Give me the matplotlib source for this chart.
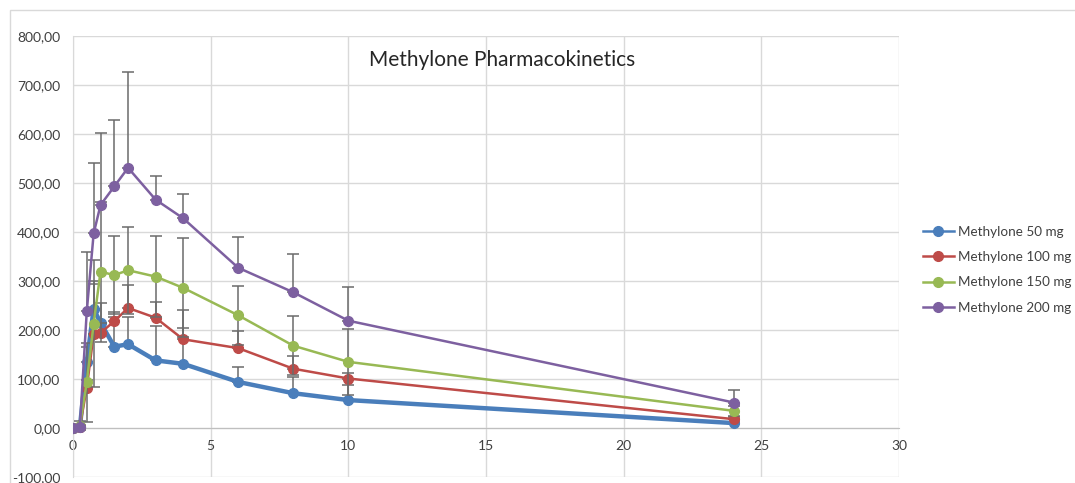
import matplotlib.pyplot as plt
import numpy as np

# time points (h)
hours = [0, 0.25, 0.5, 0.75, 1, 1.5, 2, 3, 4, 6, 8, 10, 24]

labels = ['Methylone 50 mg', 'Methylone 100 mg', 'Methylone 150 mg', 'Methylone 200 mg']
colors = ['#4A7EBB', '#BE4B48', '#98B954', '#7D60A0']

mean50 = [0, 2, 135, 243, 215, 166, 171, 138, 131, 94, 71, 57, 10]
mean100 = [0, 3, 82, 192, 194, 218, 245, 225, 181, 163, 121, 101, 18]
mean150 = [0, 5, 93, 213, 319, 312, 322, 309, 286, 230, 168, 135, 35]
mean200 = [0, 2, 238, 397, 455, 493, 531, 466, 428, 327, 277, 219, 52]

sd50 = [0, 2, 30, 50, 40, 61, 55, 70, 73, 30, 34, 30, 3]
sd100 = [0, 3, 15, 107, 20, 19, 47, 33, 60, 35, 26, 12, 5]
sd150 = [0, 10, 80, 130, 143, 80, 89, 83, 101, 60, 60, 68, 10]
sd200 = [0, 3, 122, 143, 147, 135, 196, 49, 50, 63, 78, 69, 25]

means = [mean50, mean100, mean150, mean200]
sds = [sd50, sd100, sd150, sd200]
both_dirs = [False, False, True, False]
widths = [3.2, 1.8, 1.8, 1.8]

plt.rcParams['font.family'] = ['Lato', 'DejaVu Sans']

fig = plt.figure(figsize=(10.75, 4.83), dpi=100)
ax = fig.add_axes([73 / 1075, 1 - 477 / 483, 826 / 1075, 441 / 483])

for i in range(4):
    m = np.array(means[i], dtype=float)
    s = np.array(sds[i], dtype=float)
    lower = s if both_dirs[i] else np.zeros_like(s)
    ax.errorbar(hours, m, yerr=[lower, s], fmt='none', ecolor='#6B6B6B',
                elinewidth=1.1, capsize=4, capthick=1.1, zorder=2 + i)
    ax.plot(hours, m, color=colors[i], lw=widths[i], marker='o', ms=7,
            label=labels[i], zorder=3 + i)

ax.set_xlim(0, 30)
ax.set_ylim(-100, 800)
ax.set_xticks(range(0, 31, 5))
ax.set_yticks(range(-100, 801, 100))
ax.set_yticklabels(['{:.2f}'.format(v).replace('.', ',') for v in range(-100, 801, 100)])
ax.grid(True, color='#D9D9D9', lw=1)
ax.set_axisbelow(True)

for side in ['top', 'right']:
    ax.spines[side].set_visible(False)
ax.spines['bottom'].set_position(('data', 0))
ax.spines['bottom'].set_color('#BFBFBF')
ax.spines['left'].set_color('#D9D9D9')
ax.tick_params(length=0, labelsize=10, colors='#404040')
ax.tick_params(axis='x', pad=9)
ax.tick_params(axis='y', pad=9)

fig.text(0.467, 0.876, 'Methylone Pharmacokinetics', fontsize=15,
         ha='center', va='center', color='#262626')

leg = ax.legend(loc='center left', bbox_to_anchor=(1.014, 0.47), frameon=False,
                fontsize=9.7, handlelength=2.3, handletextpad=0.3, labelspacing=0.98,
                labelcolor='#404040')
for h in leg.get_lines():
    h.set_linewidth(1.8)

# outer chart border
fig.add_artist(plt.Rectangle((10 / 1075, -0.01), 1.0, 1 - 10 / 483 + 0.01,
                             transform=fig.transFigure, fill=False,
                             edgecolor='#D9D9D9', lw=1))

fig.savefig('out.png', dpi=100)
